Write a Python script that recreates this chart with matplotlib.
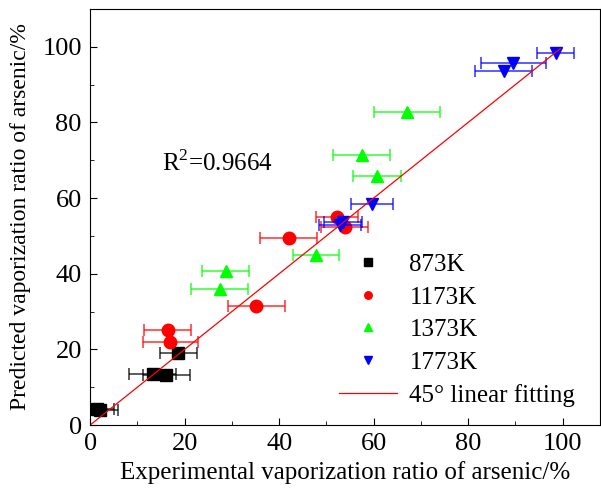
import numpy as np
import matplotlib.pyplot as plt
from matplotlib.ticker import MultipleLocator

plt.rcParams.update({'font.family': 'Liberation Serif', 'font.size': 18,
                     'mathtext.fontset': 'custom', 'mathtext.rm': 'Liberation Serif'})

# 873K
x873 = [1.5, 2.0, 13.2, 16.1, 18.7]
y873 = [4.2, 4.0, 13.5, 13.2, 19.0]
e873 = [3.5, 4.0, 5.0, 5.0, 3.9]
# 1173K
x1173 = [16.4, 17.0, 35.2, 42.0, 52.2, 53.9]
y1173 = [25.1, 22.0, 31.5, 49.5, 55.0, 52.4]
e1173 = [5.0, 5.8, 6.0, 6.0, 4.5, 5.0]
# 1373K
x1373 = [28.7, 27.4, 47.8, 67.1, 57.5, 60.7]
y1373 = [40.8, 36.0, 45.0, 82.8, 71.4, 65.9]
e1373 = [5.0, 6.0, 4.8, 7.0, 6.0, 5.0]
# 1773K
x1773 = [52.9, 53.6, 59.7, 87.5, 89.6, 98.5]
y1773 = [52.9, 53.6, 58.5, 93.6, 95.7, 98.4]
e1773 = [4.4, 4.0, 4.4, 6.0, 6.9, 4.0]

fig, ax = plt.subplots(figsize=(6.01, 5.0), dpi=100)
fig.subplots_adjust(left=0.150, right=0.999, top=0.982, bottom=0.150)

series = [(x873, y873, e873, 's', 'black', '873K'),
          (x1173, y1173, e1173, 'o', 'red', '1173K'),
          (x1373, y1373, e1373, '^', '#00ff00', '1373K'),
          (x1773, y1773, e1773, 'v', 'blue', '1773K')]
for xs, ys, es, m, c, lab in series:
    ax.errorbar(xs, ys, xerr=es, fmt='none', ecolor=c, elinewidth=1.2,
                capsize=4, capthick=1.2, alpha=0.75)
    ax.plot(xs, ys, m, color=c, markersize=9, linestyle='none', label=lab)

line = np.array([0, 99.5])
ax.plot(line, line, color='red', linewidth=0.9, label='45° linear fitting')

ax.text(15.3, 69.3, r'R$^2$=0.9664', fontsize=18, ha='left', va='center')

ax.set_xlim(0, 108)
ax.set_ylim(0, 110)
ax.xaxis.set_major_locator(MultipleLocator(20))
ax.xaxis.set_minor_locator(MultipleLocator(10))
ax.yaxis.set_major_locator(MultipleLocator(20))
ax.yaxis.set_minor_locator(MultipleLocator(10))
ax.tick_params(which='both', direction='in', labelsize=19)
ax.tick_params(which='major', length=5, pad=6)
ax.tick_params(which='minor', length=3)

ax.set_xlabel('Experimental vaporization ratio of arsenic/%', fontsize=18, labelpad=4)
ax.set_ylabel('Predicted vaporization ratio of arsenic/%', fontsize=17, labelpad=8)

leg = ax.legend(loc='lower right', frameon=False, fontsize=18, markerscale=0.6,
                handlelength=2.3, handletextpad=0.5, labelspacing=0.4,
                bbox_to_anchor=(0.995, -0.01))

plt.savefig('out.png', dpi=100)
